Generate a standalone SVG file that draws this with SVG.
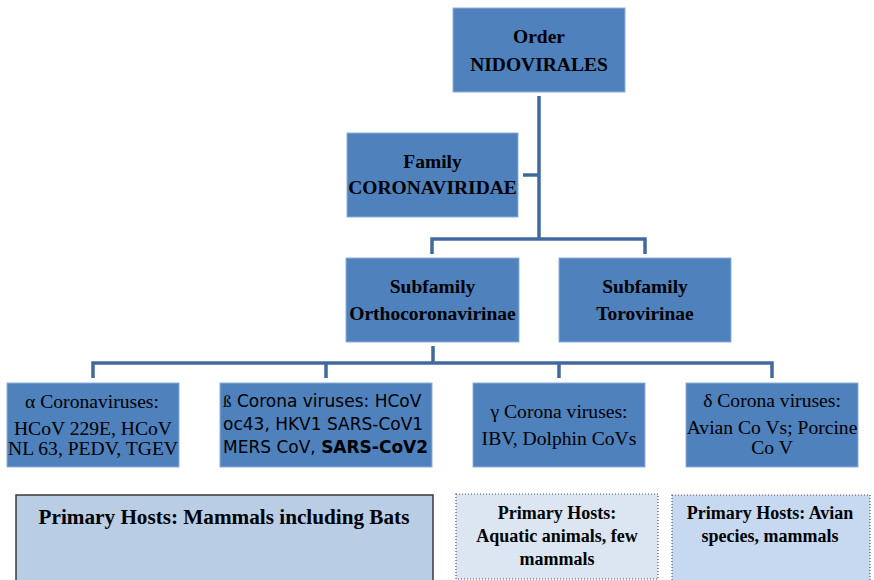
<svg xmlns="http://www.w3.org/2000/svg" width="874" height="580" viewBox="0 0 874 580">
<style>
.box{fill:#4f81bd;stroke:#8eaedb;stroke-width:1}
.tb{font-family:"Liberation Serif","Times New Roman",serif;font-weight:bold;font-size:19.5px;fill:#000;text-anchor:middle}
.tr{font-family:"Liberation Serif","Times New Roman",serif;font-size:19.6px;fill:#000;text-anchor:middle}
.ts{font-family:"DejaVu Sans",Verdana,sans-serif;font-size:17px;fill:#000}
.con{fill:none;stroke:#41699e;stroke-width:3.5}
.host{font-family:"Liberation Serif","Times New Roman",serif;font-weight:bold;font-size:18px;fill:#000;text-anchor:middle}
.host.big{font-size:21.2px}
</style>
<rect width="874" height="580" fill="#fff"/>
<g id="connectors">
<path class="con" d="M539,96 V239 M523,175 H539 M432,254 V239 H645 V254 M433,346 V363 M93,378 V363 H772 V378 M326,363 V378 M559,363 V378"/>
</g>
<g id="order">
<rect class="box" x="453" y="8" width="172" height="84"/>
<text class="tb" x="539" y="43">Order</text>
<text class="tb" x="539" y="71">NIDOVIRALES</text>
</g>
<g id="family">
<rect class="box" x="347" y="133" width="171" height="84"/>
<text class="tb" x="432.5" y="168">Family</text>
<text class="tb" x="432.5" y="194">CORONAVIRIDAE</text>
</g>
<g id="ortho">
<rect class="box" x="346" y="258" width="173" height="84"/>
<text class="tb" x="432.5" y="293">Subfamily</text>
<text class="tb" x="432.5" y="320">Orthocoronavirinae</text>
</g>
<g id="toro">
<rect class="box" x="559" y="258" width="172" height="84"/>
<text class="tb" x="645" y="293">Subfamily</text>
<text class="tb" x="645" y="320">Torovirinae</text>
</g>
<g id="alpha">
<rect class="box" x="7" y="383" width="172" height="84"/>
<text class="tr" x="92" y="408">α Coronaviruses:</text>
<text class="tr" x="93" y="435">HCoV 229E, HCoV</text>
<text class="tr" x="93" y="455">NL 63, PEDV, TGEV</text>
</g>
<g id="beta">
<rect class="box" x="220" y="383" width="212" height="84"/>
<text class="ts" x="223" y="407"><tspan font-family="'Liberation Serif',serif">ß</tspan> Corona viruses: HCoV</text>
<text class="ts" x="223" y="430">oc43, HKV1 SARS-CoV1</text>
<text class="ts" x="223" y="453">MERS CoV, <tspan font-weight="bold">SARS-CoV2</tspan></text>
</g>
<g id="gamma">
<rect class="box" x="473" y="383" width="172" height="84"/>
<text class="tr" x="559" y="418">γ Corona viruses:</text>
<text class="tr" x="559" y="445">IBV, Dolphin CoVs</text>
</g>
<g id="delta">
<rect class="box" x="686" y="383" width="172" height="84"/>
<text class="tr" x="772" y="407">δ Corona viruses:</text>
<text class="tr" x="772" y="434">Avian Co Vs; Porcine</text>
<text class="tr" x="772" y="454">Co V</text>
</g>
<g id="host-mammals">
<rect x="16" y="495" width="417" height="95" fill="#b9cde5" stroke="#3a3a3a" stroke-width="1.5"/>
<text class="host big" x="224" y="524">Primary Hosts: Mammals including Bats</text>
</g>
<g id="host-aquatic">
<rect x="456" y="494" width="202" height="85" fill="#dce6f2" stroke="#555" stroke-width="1.2" stroke-dasharray="1,2"/>
<text class="host" x="557" y="519">Primary Hosts:</text>
<text class="host" x="557" y="542">Aquatic animals, few</text>
<text class="host" x="557" y="565">mammals</text>
</g>
<g id="host-avian">
<rect x="672" y="495" width="198" height="95" fill="#c6d9f1" stroke="#555" stroke-width="1.2" stroke-dasharray="1,2"/>
<text class="host" x="770" y="519">Primary Hosts: Avian</text>
<text class="host" x="770" y="542">species, mammals</text>
</g>
</svg>
